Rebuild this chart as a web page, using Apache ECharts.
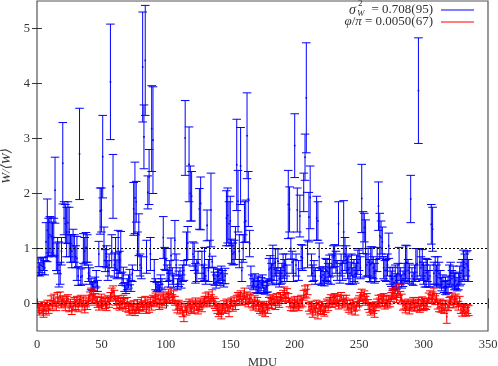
<!DOCTYPE html>
<html><head><meta charset="utf-8">
<script src="https://cdn.jsdelivr.net/npm/echarts@6/dist/echarts.min.js"></script>
<style>html,body{margin:0;padding:0;background:#fff}#c{width:498px;height:366px}</style>
</head><body><div id="c"></div>
<script>
const xTicks = [0, 50, 100, 150, 200, 250, 300, 350];
const yTicks = [0, 1, 2, 3, 4, 5];
const refLines = [0, 1];
const legendBlue = "= 0.708(95)";
const legendRed = "= 0.0050(67)";

const blueVal = [
0.66,0.62,0.70,0.68,0.72,0.65,1.12,1.33,1.20,1.25,
1.22,1.18,1.20,2.06,0.85,0.87,0.71,0.55,0.95,2.55,
1.55,1.45,1.30,1.47,1.30,1.00,0.95,1.05,1.00,0.85,
0.82,0.50,2.72,0.48,0.50,1.00,0.95,1.02,1.00,0.55,
0.50,0.35,0.32,0.30,0.38,0.45,0.32,0.90,1.68,1.70,
2.67,1.03,0.78,0.85,0.60,0.70,4.03,0.95,2.13,0.70,
0.90,0.62,0.90,0.75,0.93,0.45,0.51,0.30,0.25,0.35,
0.40,0.48,0.32,0.55,1.72,1.92,1.85,0.95,1.25,0.70,
0.65,4.30,3.03,4.42,0.85,2.02,2.30,0.90,3.18,2.97,
0.60,0.35,0.30,0.32,0.28,0.40,0.35,1.20,0.82,0.80,
0.55,0.45,0.60,0.87,0.50,0.40,1.15,0.70,0.35,0.45,
0.50,0.40,0.55,0.60,3.01,1.00,1.10,2.53,2.00,1.95,
0.90,0.85,0.55,0.60,0.75,1.72,1.82,0.70,0.55,0.72,
0.50,1.42,0.60,0.90,1.70,0.76,0.50,0.45,0.40,0.50,
0.50,0.45,0.55,0.48,0.42,0.50,1.55,1.60,1.45,1.50,
0.95,0.90,0.93,1.10,2.52,1.86,0.95,2.50,0.60,1.00,
1.48,1.50,3.05,1.90,1.09,0.50,0.40,0.35,0.42,0.30,
0.33,0.35,0.30,0.35,0.40,0.28,0.25,0.30,0.33,0.62,
0.65,0.55,0.70,0.62,0.75,0.50,0.77,0.45,0.50,0.55,
0.68,0.60,0.70,0.55,1.80,1.71,1.00,0.75,0.60,2.87,
0.70,1.70,0.60,1.59,0.85,0.83,2.02,2.66,3.74,0.90,
1.57,1.93,0.70,0.55,0.60,0.50,1.55,1.50,0.85,0.50,
0.48,0.52,0.45,0.62,0.60,0.55,0.68,0.50,0.70,0.85,
0.87,0.75,0.60,1.45,0.55,0.70,0.60,1.30,0.90,0.80,
0.65,0.62,0.55,0.70,0.50,0.60,0.55,0.68,0.75,0.80,
0.65,1.91,1.29,1.38,1.00,0.70,0.75,0.60,0.71,0.75,
0.65,0.55,0.60,0.80,1.77,1.23,1.20,1.12,0.65,0.60,
0.60,0.70,1.05,0.50,0.45,0.45,0.38,0.50,0.40,0.55,
0.72,0.50,0.40,0.45,0.55,0.74,0.75,0.60,0.55,1.90,
0.50,0.45,0.55,0.70,0.72,3.87,0.75,0.65,0.70,0.55,
0.50,0.56,0.60,0.45,0.50,1.44,1.35,0.55,0.60,0.50,
0.59,0.55,0.45,0.35,0.40,0.30,0.32,0.30,0.35,0.50,
0.55,0.45,0.50,0.40,0.42,0.35,0.40,0.50,0.55,0.60,
0.70,0.65,0.72,0.68,0.60
];
const blueErr = [
0.15,0.12,0.14,0.15,0.12,0.13,0.35,0.57,0.35,0.33,
0.35,0.30,0.35,0.60,0.25,0.33,0.41,0.20,0.25,0.74,
0.30,0.35,0.45,0.38,0.45,0.25,0.30,0.30,0.25,0.20,
0.40,0.17,0.83,0.15,0.15,0.27,0.25,0.27,0.25,0.15,
0.15,0.10,0.08,0.08,0.10,0.15,0.10,0.23,0.42,0.40,
0.75,0.36,0.20,0.20,0.18,0.20,1.05,0.30,0.58,0.22,
0.30,0.17,0.43,0.20,0.38,0.12,0.15,0.08,0.07,0.10,
0.12,0.14,0.10,0.15,0.48,0.65,0.37,0.35,0.38,0.20,
0.20,1.00,0.58,1.00,0.30,0.30,0.50,0.30,0.78,0.97,
0.20,0.10,0.08,0.08,0.07,0.12,0.10,0.38,0.20,0.20,
0.15,0.15,0.18,0.32,0.15,0.12,0.36,0.20,0.10,0.14,
0.15,0.12,0.15,0.18,0.68,0.30,0.30,0.68,0.50,0.45,
0.22,0.25,0.18,0.20,0.20,0.37,0.48,0.25,0.15,0.30,
0.15,0.28,0.20,0.25,0.67,0.10,0.15,0.12,0.12,0.13,
0.12,0.12,0.13,0.12,0.12,0.14,0.50,0.50,0.40,0.45,
0.22,0.20,0.22,0.30,0.83,0.56,0.30,0.70,0.20,0.25,
0.37,0.38,0.78,0.50,0.24,0.18,0.12,0.10,0.12,0.10,
0.15,0.15,0.12,0.12,0.12,0.10,0.08,0.10,0.12,0.20,
0.22,0.18,0.36,0.20,0.25,0.15,0.22,0.15,0.15,0.18,
0.22,0.20,0.20,0.15,0.62,0.41,0.19,0.20,0.20,0.58,
0.20,0.40,0.18,0.38,0.22,0.23,0.35,0.42,1.00,0.25,
0.45,0.57,0.20,0.15,0.18,0.15,0.40,0.35,0.25,0.15,
0.15,0.15,0.13,0.20,0.20,0.18,0.20,0.15,0.20,0.20,
0.20,0.20,0.18,0.40,0.18,0.20,0.18,0.57,0.30,0.25,
0.20,0.26,0.20,0.20,0.15,0.20,0.18,0.20,0.22,0.20,
0.20,0.62,0.38,0.26,0.52,0.20,0.25,0.20,0.32,0.28,
0.20,0.18,0.20,0.22,0.44,0.41,0.30,0.27,0.20,0.18,
0.20,0.20,0.23,0.15,0.14,0.21,0.12,0.20,0.14,0.18,
0.30,0.15,0.12,0.14,0.18,0.32,0.30,0.20,0.18,0.43,
0.15,0.12,0.15,0.30,0.28,0.96,0.25,0.20,0.28,0.20,
0.20,0.26,0.20,0.15,0.20,0.36,0.40,0.20,0.25,0.20,
0.26,0.20,0.15,0.12,0.12,0.10,0.16,0.12,0.15,0.20,
0.20,0.15,0.18,0.15,0.15,0.12,0.15,0.18,0.20,0.20,
0.27,0.25,0.22,0.28,0.20
];
const redVal = [
-0.08,-0.12,-0.05,-0.10,-0.15,-0.06,-0.12,-0.02,-0.10,-0.04,
0.05,-0.02,0.08,0.02,-0.05,0.10,0.04,0.12,0.00,0.06,
0.02,-0.04,0.05,0.08,-0.06,0.00,-0.10,-0.05,0.03,-0.02,
0.05,-0.06,0.02,0.07,-0.03,0.04,-0.08,0.02,-0.03,0.06,
0.12,0.18,0.08,0.15,0.10,0.05,0.02,-0.04,0.03,0.08,
-0.02,0.04,0.00,-0.05,0.06,0.02,0.12,0.18,0.22,0.15,
0.05,0.00,0.06,-0.04,0.02,-0.02,0.07,0.00,-0.06,0.03,
-0.08,-0.12,-0.05,-0.10,-0.04,-0.14,-0.08,-0.02,-0.10,-0.05,
0.02,-0.06,-0.03,0.04,-0.10,0.00,-0.07,0.03,-0.04,0.06,
0.05,0.10,0.02,0.08,-0.02,0.06,0.00,0.10,0.04,0.08,
0.12,0.16,0.10,0.20,0.08,0.14,0.05,-0.04,-0.08,-0.02,
-0.10,-0.05,-0.15,-0.23,-0.08,-0.12,-0.04,0.00,-0.06,-0.10,
-0.02,-0.08,0.02,-0.05,-0.10,-0.03,0.00,-0.06,0.02,0.05,
0.10,0.05,0.12,0.02,0.08,0.15,0.04,0.00,-0.05,-0.10,
-0.15,-0.12,-0.18,-0.08,-0.04,-0.10,0.00,-0.06,-0.14,-0.02,
0.02,-0.05,0.04,-0.03,0.06,0.12,0.08,0.15,0.05,0.10,
0.18,0.06,0.12,0.02,0.08,0.10,0.00,-0.04,0.05,-0.02,
0.03,-0.05,-0.10,-0.06,-0.12,-0.08,-0.14,-0.04,-0.10,0.02,
0.06,0.00,0.08,0.04,-0.02,0.10,0.05,0.02,0.12,0.08,
0.15,0.20,0.12,0.18,0.10,0.02,-0.04,0.00,-0.06,0.03,
-0.02,0.04,-0.05,0.00,0.06,0.02,0.15,0.22,0.18,0.25,
-0.06,-0.10,-0.04,-0.15,-0.08,-0.12,-0.02,-0.18,-0.06,-0.10,
-0.05,-0.12,-0.14,-0.08,0.00,-0.04,0.03,0.08,0.02,0.06,
0.10,0.04,0.08,-0.02,0.05,0.12,0.00,0.06,0.02,0.07,
-0.03,-0.08,-0.02,-0.10,0.00,-0.06,-0.12,-0.04,0.02,0.05,
0.12,0.16,0.08,0.14,0.05,0.10,-0.02,-0.08,-0.12,-0.06,
-0.10,-0.15,-0.05,0.00,0.06,0.02,0.08,0.04,0.10,-0.02,
0.05,0.00,0.07,0.03,0.12,0.18,0.15,0.22,0.10,0.20,
0.25,0.14,0.08,-0.04,-0.02,-0.08,-0.05,0.00,-0.10,-0.04,
-0.02,0.02,-0.06,0.00,-0.04,0.03,-0.08,-0.02,0.04,-0.05,
0.00,-0.03,0.02,0.10,0.15,0.08,0.12,0.18,0.06,0.10,
-0.02,-0.06,0.00,-0.08,-0.04,-0.10,-0.02,-0.24,-0.05,0.02,
0.05,0.10,0.00,0.06,0.08,0.02,-0.04,0.04,-0.10,-0.14,
-0.08,-0.12,-0.15,-0.10,-0.13
];
const redErr = [
0.08,0.09,0.08,0.08,0.10,0.08,0.09,0.08,0.08,0.09,
0.09,0.08,0.09,0.08,0.08,0.10,0.08,0.09,0.08,0.08,
0.08,0.09,0.08,0.08,0.09,0.08,0.10,0.08,0.08,0.09,
0.08,0.09,0.08,0.08,0.09,0.08,0.09,0.08,0.08,0.09,
0.09,0.10,0.08,0.09,0.08,0.08,0.09,0.08,0.08,0.09,
0.08,0.08,0.09,0.08,0.08,0.09,0.08,0.10,0.10,0.09,
0.08,0.09,0.08,0.08,0.09,0.08,0.08,0.09,0.08,0.08,
0.08,0.09,0.08,0.08,0.09,0.08,0.08,0.09,0.08,0.08,
0.09,0.08,0.08,0.09,0.08,0.08,0.09,0.08,0.08,0.09,
0.08,0.09,0.08,0.08,0.09,0.08,0.08,0.09,0.08,0.08,
0.09,0.10,0.08,0.09,0.08,0.09,0.08,0.08,0.09,0.08,
0.09,0.08,0.09,0.10,0.08,0.09,0.08,0.08,0.09,0.08,
0.08,0.09,0.08,0.08,0.09,0.08,0.08,0.09,0.08,0.08,
0.09,0.08,0.09,0.08,0.08,0.10,0.08,0.09,0.08,0.08,
0.09,0.08,0.10,0.08,0.09,0.08,0.08,0.09,0.10,0.08,
0.08,0.09,0.08,0.08,0.09,0.08,0.09,0.08,0.08,0.09,
0.10,0.08,0.09,0.08,0.08,0.09,0.08,0.08,0.09,0.08,
0.08,0.09,0.08,0.08,0.09,0.08,0.10,0.08,0.08,0.09,
0.08,0.09,0.08,0.08,0.09,0.08,0.08,0.09,0.08,0.08,
0.09,0.10,0.08,0.09,0.08,0.08,0.09,0.08,0.08,0.09,
0.08,0.09,0.08,0.08,0.09,0.08,0.09,0.10,0.08,0.09,
0.08,0.09,0.08,0.10,0.08,0.09,0.08,0.10,0.08,0.08,
0.09,0.08,0.09,0.08,0.08,0.09,0.08,0.08,0.09,0.08,
0.08,0.09,0.08,0.08,0.09,0.08,0.08,0.09,0.08,0.08,
0.09,0.08,0.08,0.09,0.08,0.08,0.09,0.08,0.08,0.09,
0.08,0.10,0.08,0.09,0.08,0.08,0.09,0.08,0.09,0.08,
0.08,0.10,0.08,0.08,0.09,0.08,0.08,0.09,0.08,0.08,
0.09,0.08,0.08,0.09,0.08,0.09,0.08,0.10,0.08,0.09,
0.10,0.08,0.09,0.08,0.08,0.09,0.08,0.08,0.09,0.08,
0.08,0.09,0.08,0.08,0.09,0.08,0.08,0.09,0.08,0.08,
0.09,0.08,0.08,0.09,0.08,0.08,0.09,0.10,0.08,0.08,
0.08,0.09,0.08,0.08,0.09,0.08,0.08,0.12,0.08,0.09,
0.08,0.09,0.08,0.08,0.09,0.08,0.08,0.09,0.08,0.09,
0.08,0.09,0.08,0.08,0.09
];

const mdu = blueVal.map((_, i) => i + 1);
const SERIF = "'Liberation Serif','DejaVu Serif',serif";

function errRender(color, cap, lw) {
  return function (params, api) {
    const x = api.value(0), v = api.value(1), e = api.value(2);
    const t = api.coord([x, v + e]), b = api.coord([x, v - e]), m = api.coord([x, v]);
    const st = { stroke: color, lineWidth: lw };
    return {
      type: 'group',
      children: [
        { type: 'line', shape: { x1: t[0], y1: t[1], x2: b[0], y2: b[1] }, style: st },
        { type: 'line', shape: { x1: t[0] - cap, y1: t[1], x2: t[0] + cap, y2: t[1] }, style: st },
        { type: 'line', shape: { x1: b[0] - cap, y1: b[1], x2: b[0] + cap, y2: b[1] }, style: st },
        { type: 'rect', shape: { x: m[0] - 0.8, y: m[1] - 0.8, width: 1.6, height: 1.6 }, style: { fill: color } }
      ]
    };
  };
}

const chart = echarts.init(document.getElementById('c'), null, { renderer: 'canvas' });
const tickStyle = { show: true, inside: true, length: 5, lineStyle: { color: '#333', width: 1 } };
const labelStyle = { color: '#333', fontFamily: SERIF, fontSize: 12.5 };

chart.setOption({
  animation: false,
  backgroundColor: '#fff',
  grid: { left: 37, right: 10, top: 1, bottom: 35, containLabel: false, outerBoundsMode: 'none',
          show: true, borderColor: '#555', borderWidth: 1.2, backgroundColor: 'transparent' },
  xAxis: [
    { type: 'value', min: xTicks[0], max: xTicks[xTicks.length - 1], interval: 50, position: 'bottom',
      axisLine: { show: false }, splitLine: { show: false }, axisTick: tickStyle,
      axisLabel: Object.assign({ margin: 7 }, labelStyle),
      name: 'MDU', nameLocation: 'middle', nameGap: 21,
      nameTextStyle: { color: '#333', fontFamily: SERIF, fontSize: 12.5 } },
    { type: 'value', min: xTicks[0], max: xTicks[xTicks.length - 1], interval: 50, position: 'top',
      axisLine: { show: false }, splitLine: { show: false }, axisTick: tickStyle, axisLabel: { show: false } }
  ],
  yAxis: [
    { type: 'value', min: -0.5, max: 5.5, position: 'left',
      axisLine: { show: false }, splitLine: { show: false },
      axisTick: Object.assign({ customValues: yTicks }, tickStyle),
      axisLabel: Object.assign({ customValues: yTicks, margin: 7 }, labelStyle),
      name: 'W/⟨W⟩', nameLocation: 'middle', nameGap: 20, nameRotate: 90,
      nameTextStyle: { color: '#333', fontFamily: SERIF, fontSize: 13, fontStyle: 'italic' } },
    { type: 'value', min: -0.5, max: 5.5, position: 'right',
      axisLine: { show: false }, splitLine: { show: false },
      axisTick: Object.assign({ customValues: yTicks }, tickStyle),
      axisLabel: { show: false } }
  ],
  series: [
    { type: 'custom', name: 'sigma', clip: true, z: 2,
      renderItem: errRender('#0000ff', 4.3, 1.0),
      encode: { x: 0, y: [1, 2] },
      data: mdu.map((x, i) => [x, blueVal[i], blueErr[i]]) },
    { type: 'custom', name: 'phi', clip: true, z: 3,
      renderItem: errRender('#ff0000', 4, 1.0),
      encode: { x: 0, y: [1, 2] },
      data: mdu.map((x, i) => [x, redVal[i], redErr[i]]) },
    ...refLines.map(r => ({
      type: 'line', z: 5, symbol: 'none', silent: true,
      lineStyle: { color: '#000', width: 1, type: [2, 2] },
      data: [[xTicks[0], r], [xTicks[xTicks.length - 1], r]]
    }))
  ],
  graphic: [
    { type: 'text', x: 349, y: 10, style: { text: 'σ', font: 'italic 14px ' + SERIF, fill: '#333', verticalAlign: 'middle' } },
    { type: 'text', x: 358, y: 4, style: { text: '2', font: '9px ' + SERIF, fill: '#333', verticalAlign: 'middle' } },
    { type: 'text', x: 357, y: 14, style: { text: 'W', font: 'italic 9px ' + SERIF, fill: '#333', verticalAlign: 'middle' } },
    { type: 'text', x: 433, y: 10, style: { text: legendBlue, font: '13px ' + SERIF, fill: '#333', align: 'right', verticalAlign: 'middle' } },
    { type: 'line', shape: { x1: 441, y1: 10, x2: 474, y2: 10 }, style: { stroke: '#0000ff', lineWidth: 1.2 } },
    { type: 'text', x: 433, y: 22, style: {
        text: '{i|φ}/{i|π} ' + legendRed, font: '13px ' + SERIF, fill: '#333', align: 'right', verticalAlign: 'middle',
        rich: { i: { fontStyle: 'italic', fontFamily: SERIF, fontSize: 13, fill: '#333' } } } },
    { type: 'line', shape: { x1: 441, y1: 22, x2: 474, y2: 22 }, style: { stroke: '#ff0000', lineWidth: 1.2 } }
  ]
});
</script>
</body></html>
